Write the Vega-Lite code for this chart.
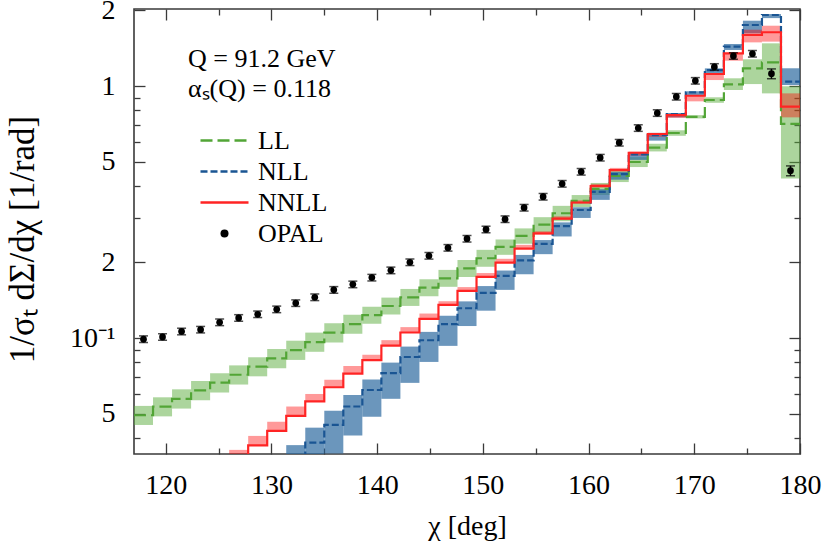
{
  "$schema": "https://vega.github.io/schema/vega-lite/v6.json",
  "width": 666,
  "height": 445,
  "autosize": {"type": "none"},
  "padding": {"left": 134, "top": 9, "right": 22, "bottom": 87},
  "background": "white",
  "config": {
    "font": "Liberation Serif",
    "view": {"stroke": "#3a3a3a", "strokeWidth": 1.6},
    "axis": {"grid": false, "domain": false, "labelFont": "Liberation Serif", "titleFont": "Liberation Serif", "labelColor": "#000", "titleColor": "#000", "tickColor": "#3a3a3a", "tickWidth": 1.3, "titleFontWeight": "normal", "labelFontSize": 28, "labelFlush": false, "labelOverlap": false}
  },
  "title": {"text": ["Q = 91.2 GeV", "αₛ(Q) = 0.118"], "anchor": "start", "frame": "group", "orient": "top", "baseline": "top", "offset": 0, "dx": 54, "dy": 106, "fontSize": 26, "fontWeight": "normal", "font": "Liberation Serif", "lineHeight": 30, "color": "#000"},
  "datasets": {
    "hist": [
      {"series": "LL", "x0": 117, "x1": 118.8, "v": 0.0494, "lo": 0.0452, "hi": 0.0538},
      {"series": "LL", "x0": 118.8, "x1": 120.6, "v": 0.0534, "lo": 0.0489, "hi": 0.0582},
      {"series": "LL", "x0": 120.6, "x1": 122.4, "v": 0.0574, "lo": 0.0525, "hi": 0.0626},
      {"series": "LL", "x0": 122.4, "x1": 124.2, "v": 0.0620, "lo": 0.0567, "hi": 0.0676},
      {"series": "LL", "x0": 124.2, "x1": 126, "v": 0.0665, "lo": 0.0608, "hi": 0.0725},
      {"series": "LL", "x0": 126, "x1": 127.8, "v": 0.0715, "lo": 0.0654, "hi": 0.0779},
      {"series": "LL", "x0": 127.8, "x1": 129.6, "v": 0.0770, "lo": 0.0705, "hi": 0.0839},
      {"series": "LL", "x0": 129.6, "x1": 131.4, "v": 0.0830, "lo": 0.0759, "hi": 0.0905},
      {"series": "LL", "x0": 131.4, "x1": 133.2, "v": 0.0895, "lo": 0.0819, "hi": 0.0976},
      {"series": "LL", "x0": 133.2, "x1": 135, "v": 0.0964, "lo": 0.0882, "hi": 0.1051},
      {"series": "LL", "x0": 135, "x1": 136.8, "v": 0.1050, "lo": 0.0961, "hi": 0.1145},
      {"series": "LL", "x0": 136.8, "x1": 138.6, "v": 0.1135, "lo": 0.1039, "hi": 0.1237},
      {"series": "LL", "x0": 138.6, "x1": 140.4, "v": 0.1232, "lo": 0.1140, "hi": 0.1331},
      {"series": "LL", "x0": 140.4, "x1": 142.2, "v": 0.1340, "lo": 0.1240, "hi": 0.1447},
      {"series": "LL", "x0": 142.2, "x1": 144, "v": 0.1450, "lo": 0.1341, "hi": 0.1566},
      {"series": "LL", "x0": 144, "x1": 145.8, "v": 0.1584, "lo": 0.1465, "hi": 0.1711},
      {"series": "LL", "x0": 145.8, "x1": 147.6, "v": 0.1726, "lo": 0.1597, "hi": 0.1864},
      {"series": "LL", "x0": 147.6, "x1": 149.4, "v": 0.1889, "lo": 0.1747, "hi": 0.2040},
      {"series": "LL", "x0": 149.4, "x1": 151.2, "v": 0.2073, "lo": 0.1918, "hi": 0.2239},
      {"series": "LL", "x0": 151.2, "x1": 153, "v": 0.2300, "lo": 0.2139, "hi": 0.2461},
      {"series": "LL", "x0": 153, "x1": 154.8, "v": 0.2545, "lo": 0.2367, "hi": 0.2723},
      {"series": "LL", "x0": 154.8, "x1": 156.6, "v": 0.2820, "lo": 0.2623, "hi": 0.3017},
      {"series": "LL", "x0": 156.6, "x1": 158.4, "v": 0.3127, "lo": 0.2908, "hi": 0.3346},
      {"series": "LL", "x0": 158.4, "x1": 160.2, "v": 0.3500, "lo": 0.3308, "hi": 0.3693},
      {"series": "LL", "x0": 160.2, "x1": 162, "v": 0.3910, "lo": 0.3695, "hi": 0.4125},
      {"series": "LL", "x0": 162, "x1": 163.8, "v": 0.4400, "lo": 0.4158, "hi": 0.4642},
      {"series": "LL", "x0": 163.8, "x1": 165.6, "v": 0.4995, "lo": 0.4770, "hi": 0.5220},
      {"series": "LL", "x0": 165.6, "x1": 167.4, "v": 0.5700, "lo": 0.5501, "hi": 0.5900},
      {"series": "LL", "x0": 167.4, "x1": 169.2, "v": 0.6510, "lo": 0.6347, "hi": 0.6673},
      {"series": "LL", "x0": 169.2, "x1": 171, "v": 0.7550, "lo": 0.7437, "hi": 0.7663},
      {"series": "LL", "x0": 171, "x1": 172.8, "v": 0.8800, "lo": 0.8580, "hi": 0.9020},
      {"series": "LL", "x0": 172.8, "x1": 174.6, "v": 1.016, "lo": 0.964, "hi": 1.073},
      {"series": "LL", "x0": 174.6, "x1": 176.4, "v": 1.175, "lo": 1.018, "hi": 1.276},
      {"series": "LL", "x0": 176.4, "x1": 178.2, "v": 1.242, "lo": 0.935, "hi": 1.477},
      {"series": "LL", "x0": 178.2, "x1": 180, "v": 0.707, "lo": 0.430, "hi": 0.997},
      {"series": "NLL", "x0": 131.4, "x1": 133.2, "v": 0.0330, "lo": 0.0254, "hi": 0.0376},
      {"series": "NLL", "x0": 133.2, "x1": 135, "v": 0.0385, "lo": 0.0296, "hi": 0.0441},
      {"series": "NLL", "x0": 135, "x1": 136.8, "v": 0.0452, "lo": 0.0348, "hi": 0.0515},
      {"series": "NLL", "x0": 136.8, "x1": 138.6, "v": 0.0535, "lo": 0.0411, "hi": 0.0595},
      {"series": "NLL", "x0": 138.6, "x1": 140.4, "v": 0.0622, "lo": 0.0487, "hi": 0.0685},
      {"series": "NLL", "x0": 140.4, "x1": 142.2, "v": 0.0726, "lo": 0.0574, "hi": 0.0799},
      {"series": "NLL", "x0": 142.2, "x1": 144, "v": 0.0841, "lo": 0.0664, "hi": 0.0925},
      {"series": "NLL", "x0": 144, "x1": 145.8, "v": 0.0980, "lo": 0.0804, "hi": 0.1058},
      {"series": "NLL", "x0": 145.8, "x1": 147.6, "v": 0.1135, "lo": 0.0931, "hi": 0.1226},
      {"series": "NLL", "x0": 147.6, "x1": 149.4, "v": 0.1313, "lo": 0.1116, "hi": 0.1398},
      {"series": "NLL", "x0": 149.4, "x1": 151.2, "v": 0.1510, "lo": 0.1284, "hi": 0.1608},
      {"series": "NLL", "x0": 151.2, "x1": 153, "v": 0.1765, "lo": 0.1553, "hi": 0.1853},
      {"series": "NLL", "x0": 153, "x1": 154.8, "v": 0.2035, "lo": 0.1791, "hi": 0.2137},
      {"series": "NLL", "x0": 154.8, "x1": 156.6, "v": 0.2365, "lo": 0.2152, "hi": 0.2448},
      {"series": "NLL", "x0": 156.6, "x1": 158.4, "v": 0.2780, "lo": 0.2530, "hi": 0.2877},
      {"series": "NLL", "x0": 158.4, "x1": 160.2, "v": 0.3222, "lo": 0.2996, "hi": 0.3303},
      {"series": "NLL", "x0": 160.2, "x1": 162, "v": 0.3800, "lo": 0.3534, "hi": 0.3895},
      {"series": "NLL", "x0": 162, "x1": 163.8, "v": 0.4474, "lo": 0.4250, "hi": 0.4563},
      {"series": "NLL", "x0": 163.8, "x1": 165.6, "v": 0.5360, "lo": 0.5092, "hi": 0.5467},
      {"series": "NLL", "x0": 165.6, "x1": 167.4, "v": 0.6390, "lo": 0.6071, "hi": 0.6518},
      {"series": "NLL", "x0": 167.4, "x1": 169.2, "v": 0.7740, "lo": 0.7508, "hi": 0.7817},
      {"series": "NLL", "x0": 169.2, "x1": 171, "v": 0.9440, "lo": 0.9157, "hi": 0.9534},
      {"series": "NLL", "x0": 171, "x1": 172.8, "v": 1.157, "lo": 1.106, "hi": 1.175},
      {"series": "NLL", "x0": 172.8, "x1": 174.6, "v": 1.432, "lo": 1.390, "hi": 1.468},
      {"series": "NLL", "x0": 174.6, "x1": 176.4, "v": 1.746, "lo": 1.618, "hi": 1.816},
      {"series": "NLL", "x0": 176.4, "x1": 178.2, "v": 1.913, "lo": 1.860, "hi": 1.930},
      {"series": "NLL", "x0": 178.2, "x1": 180, "v": 1.040, "lo": 1.009, "hi": 1.176},
      {"series": "NNLL", "x0": 126, "x1": 127.8, "v": 0.0330, "lo": 0.0330, "hi": 0.0360},
      {"series": "NNLL", "x0": 127.8, "x1": 129.6, "v": 0.0375, "lo": 0.0375, "hi": 0.0409},
      {"series": "NNLL", "x0": 129.6, "x1": 131.4, "v": 0.0428, "lo": 0.0428, "hi": 0.0466},
      {"series": "NNLL", "x0": 131.4, "x1": 133.2, "v": 0.0491, "lo": 0.0491, "hi": 0.0535},
      {"series": "NNLL", "x0": 133.2, "x1": 135, "v": 0.0561, "lo": 0.0561, "hi": 0.0600},
      {"series": "NNLL", "x0": 135, "x1": 136.8, "v": 0.0638, "lo": 0.0638, "hi": 0.0683},
      {"series": "NNLL", "x0": 136.8, "x1": 138.6, "v": 0.0723, "lo": 0.0723, "hi": 0.0774},
      {"series": "NNLL", "x0": 138.6, "x1": 140.4, "v": 0.0818, "lo": 0.0818, "hi": 0.0859},
      {"series": "NNLL", "x0": 140.4, "x1": 142.2, "v": 0.0934, "lo": 0.0934, "hi": 0.0981},
      {"series": "NNLL", "x0": 142.2, "x1": 144, "v": 0.1052, "lo": 0.1052, "hi": 0.1105},
      {"series": "NNLL", "x0": 144, "x1": 145.8, "v": 0.1191, "lo": 0.1191, "hi": 0.1251},
      {"series": "NNLL", "x0": 145.8, "x1": 147.6, "v": 0.1353, "lo": 0.1353, "hi": 0.1400},
      {"series": "NNLL", "x0": 147.6, "x1": 149.4, "v": 0.1539, "lo": 0.1539, "hi": 0.1593},
      {"series": "NNLL", "x0": 149.4, "x1": 151.2, "v": 0.1750, "lo": 0.1750, "hi": 0.1811},
      {"series": "NNLL", "x0": 151.2, "x1": 153, "v": 0.1993, "lo": 0.1993, "hi": 0.2063},
      {"series": "NNLL", "x0": 153, "x1": 154.8, "v": 0.2264, "lo": 0.2264, "hi": 0.2343},
      {"series": "NNLL", "x0": 154.8, "x1": 156.6, "v": 0.2600, "lo": 0.2574, "hi": 0.2652},
      {"series": "NNLL", "x0": 156.6, "x1": 158.4, "v": 0.2980, "lo": 0.2950, "hi": 0.3040},
      {"series": "NNLL", "x0": 158.4, "x1": 160.2, "v": 0.3450, "lo": 0.3416, "hi": 0.3519},
      {"series": "NNLL", "x0": 160.2, "x1": 162, "v": 0.4010, "lo": 0.3970, "hi": 0.4090},
      {"series": "NNLL", "x0": 162, "x1": 163.8, "v": 0.4640, "lo": 0.4594, "hi": 0.4733},
      {"series": "NNLL", "x0": 163.8, "x1": 165.6, "v": 0.5434, "lo": 0.5298, "hi": 0.5488},
      {"series": "NNLL", "x0": 165.6, "x1": 167.4, "v": 0.6450, "lo": 0.6289, "hi": 0.6515},
      {"series": "NNLL", "x0": 167.4, "x1": 169.2, "v": 0.7670, "lo": 0.7478, "hi": 0.7747},
      {"series": "NNLL", "x0": 169.2, "x1": 171, "v": 0.9150, "lo": 0.8693, "hi": 0.9150},
      {"series": "NNLL", "x0": 171, "x1": 172.8, "v": 1.116, "lo": 1.056, "hi": 1.116},
      {"series": "NNLL", "x0": 172.8, "x1": 174.6, "v": 1.348, "lo": 1.260, "hi": 1.348},
      {"series": "NNLL", "x0": 174.6, "x1": 176.4, "v": 1.594, "lo": 1.490, "hi": 1.673},
      {"series": "NNLL", "x0": 176.4, "x1": 178.2, "v": 1.634, "lo": 1.500, "hi": 1.735},
      {"series": "NNLL", "x0": 178.2, "x1": 180, "v": 0.828, "lo": 0.751, "hi": 0.935}
    ],
    "opal": [
      {"x": 117.9, "v": 0.0990, "lo": 0.0960, "hi": 0.1020},
      {"x": 119.7, "v": 0.1010, "lo": 0.0980, "hi": 0.1040},
      {"x": 121.5, "v": 0.1062, "lo": 0.1030, "hi": 0.1094},
      {"x": 123.3, "v": 0.1080, "lo": 0.1048, "hi": 0.1112},
      {"x": 125.1, "v": 0.1155, "lo": 0.1120, "hi": 0.1190},
      {"x": 126.9, "v": 0.1202, "lo": 0.1166, "hi": 0.1238},
      {"x": 128.7, "v": 0.1243, "lo": 0.1206, "hi": 0.1280},
      {"x": 130.5, "v": 0.1300, "lo": 0.1261, "hi": 0.1339},
      {"x": 132.3, "v": 0.1376, "lo": 0.1335, "hi": 0.1417},
      {"x": 134.1, "v": 0.1452, "lo": 0.1408, "hi": 0.1496},
      {"x": 135.9, "v": 0.1553, "lo": 0.1506, "hi": 0.1600},
      {"x": 137.7, "v": 0.1633, "lo": 0.1584, "hi": 0.1682},
      {"x": 139.5, "v": 0.1737, "lo": 0.1685, "hi": 0.1789},
      {"x": 141.3, "v": 0.1856, "lo": 0.1800, "hi": 0.1912},
      {"x": 143.1, "v": 0.1999, "lo": 0.1939, "hi": 0.2059},
      {"x": 144.9, "v": 0.2121, "lo": 0.2057, "hi": 0.2185},
      {"x": 146.7, "v": 0.2281, "lo": 0.2213, "hi": 0.2349},
      {"x": 148.5, "v": 0.2478, "lo": 0.2404, "hi": 0.2552},
      {"x": 150.3, "v": 0.2697, "lo": 0.2616, "hi": 0.2778},
      {"x": 152.1, "v": 0.2963, "lo": 0.2874, "hi": 0.3052},
      {"x": 153.9, "v": 0.3290, "lo": 0.3191, "hi": 0.3389},
      {"x": 155.7, "v": 0.3637, "lo": 0.3528, "hi": 0.3746},
      {"x": 157.5, "v": 0.4094, "lo": 0.3971, "hi": 0.4217},
      {"x": 159.3, "v": 0.4569, "lo": 0.4432, "hi": 0.4706},
      {"x": 161.1, "v": 0.5197, "lo": 0.5041, "hi": 0.5353},
      {"x": 162.9, "v": 0.5958, "lo": 0.5779, "hi": 0.6137},
      {"x": 164.7, "v": 0.6813, "lo": 0.6609, "hi": 0.7017},
      {"x": 166.5, "v": 0.7814, "lo": 0.7580, "hi": 0.8048},
      {"x": 168.3, "v": 0.9069, "lo": 0.8797, "hi": 0.9341},
      {"x": 170.1, "v": 1.049, "lo": 1.018, "hi": 1.080},
      {"x": 171.9, "v": 1.190, "lo": 1.154, "hi": 1.226},
      {"x": 173.7, "v": 1.316, "lo": 1.277, "hi": 1.355},
      {"x": 175.5, "v": 1.343, "lo": 1.303, "hi": 1.383},
      {"x": 177.3, "v": 1.119, "lo": 1.069, "hi": 1.169},
      {"x": 179.1, "v": 0.4612, "lo": 0.4405, "hi": 0.4819}
    ]
  },
  "layer": [
    {
      "layer": [
        {
          "data": {"name": "hist"},
          "transform": [{"filter": "datum.series === 'LL'"}],
          "mark": {"type": "rect", "clip": true, "strokeWidth": 0, "fill": "#5aac3c", "fillOpacity": 0.5},
          "encoding": {
            "x": {"field": "x0", "type": "quantitative", "title": "χ [deg]", "scale": {"domain": [117, 180], "nice": false, "zero": false},
              "axis": {"orient": "bottom", "values": [120, 125, 130, 135, 140, 145, 150, 155, 160, 165, 170, 175, 180], "format": "d",
                "labelExpr": "datum.value % 10 === 0 ? datum.label : ''",
                "tickSize": {"condition": {"test": "datum.value % 10 === 0", "value": -11}, "value": -6},
                "labelFont": "Liberation Serif", "titleFont": "Liberation Serif",
                "labelPadding": 28, "titleFontSize": 28, "titleY": 80, "titleBaseline": "alphabetic"}},
            "x2": {"field": "x1"},
            "y": {"field": "lo", "type": "quantitative", "title": "1/σₜ dΣ/dχ [1/rad]", "scale": {"type": "log", "domain": [0.03467, 2.021], "nice": false},
              "axis": {"orient": "left", "values": [0.04, 0.05, 0.06, 0.07, 0.08, 0.09, 0.1, 0.2, 0.3, 0.4, 0.5, 0.6, 0.7, 0.8, 0.9, 1, 2],
                "labelExpr": "datum.value === 2 ? '2' : datum.value === 1 ? '1' : datum.value === 0.5 ? '5' : datum.value === 0.2 ? '2' : datum.value === 0.1 ? '10⁻¹' : datum.value === 0.05 ? '5' : ''",
                "tickSize": {"condition": {"test": "indexof([0.05, 0.1, 0.2, 0.5, 1, 2], datum.value) >= 0", "value": -11}, "value": -6},
                "labelFont": "Liberation Serif", "titleFont": "Liberation Serif",
                "labelPadding": 30, "titleFontSize": 35, "titleX": -101, "titleY": 230, "titleBaseline": "alphabetic"}},
            "y2": {"field": "hi"}
          }
        },
        {
          "data": {"name": "hist"},
          "transform": [{"filter": "datum.series === 'NLL'"}],
          "mark": {"type": "rect", "clip": true, "strokeWidth": 0, "fill": "#2c6aa0", "fillOpacity": 0.7},
          "encoding": {
            "x": {"field": "x0", "type": "quantitative", "title": "χ [deg]", "scale": {"domain": [117, 180], "nice": false, "zero": false}},
            "x2": {"field": "x1"},
            "y": {"field": "lo", "type": "quantitative", "title": "1/σₜ dΣ/dχ [1/rad]", "scale": {"type": "log", "domain": [0.03467, 2.021], "nice": false}},
            "y2": {"field": "hi"}
          }
        },
        {
          "data": {"name": "hist"},
          "transform": [{"filter": "datum.series === 'NNLL'"}],
          "mark": {"type": "rect", "clip": true, "strokeWidth": 0, "fill": "#ff0000", "fillOpacity": 0.4},
          "encoding": {
            "x": {"field": "x0", "type": "quantitative", "title": "χ [deg]", "scale": {"domain": [117, 180], "nice": false, "zero": false}},
            "x2": {"field": "x1"},
            "y": {"field": "lo", "type": "quantitative", "title": "1/σₜ dΣ/dχ [1/rad]", "scale": {"type": "log", "domain": [0.03467, 2.021], "nice": false}},
            "y2": {"field": "hi"}
          }
        },
        {
          "data": {"name": "hist"},
          "transform": [{"fold": ["x0", "x1"], "as": ["edgeKey", "edge"]}],
          "mark": {"type": "line", "clip": true},
          "encoding": {
            "x": {"field": "edge", "type": "quantitative", "title": "χ [deg]", "scale": {"domain": [117, 180], "nice": false, "zero": false}},
            "y": {"field": "v", "type": "quantitative", "title": "1/σₜ dΣ/dχ [1/rad]", "scale": {"type": "log", "domain": [0.03467, 2.021], "nice": false}},
            "color": {"field": "series", "type": "nominal", "scale": {"domain": ["LL", "NLL", "NNLL", "OPAL"], "range": ["#52a536", "#1a5593", "#ff2424", "#000000"]},
              "legend": {"title": null, "orient": "none", "legendX": 77.5, "legendY": 118.5, "padding": 0,
                "labelFontSize": 26, "labelFont": "Liberation Serif", "labelColor": "#000",
                "symbolType": "M-2,0H2", "symbolSize": 576, "symbolStrokeWidth": 2.3, "labelOffset": 20.5, "rowPadding": 5,
                "encode": {"symbols": {"update": {
                  "shape": {"signal": "datum.value === 'OPAL' ? 'circle' : 'M-2,0H2'"},
                  "size": {"signal": "datum.value === 'OPAL' ? 64 : 576"},
                  "fill": {"signal": "datum.value === 'OPAL' ? '#000' : 'transparent'"},
                  "strokeWidth": {"signal": "datum.value === 'OPAL' ? 0 : 2.3"}}}}}},
            "strokeDash": {"field": "series", "type": "nominal", "scale": {"domain": ["LL", "NLL", "NNLL", "OPAL"], "range": [[12, 5], [7, 3], [1, 0], [1, 0]]},
              "legend": {"title": null, "orient": "none", "legendX": 77.5, "legendY": 118.5}},
            "strokeWidth": {"field": "series", "type": "nominal", "scale": {"domain": ["LL", "NLL", "NNLL"], "range": [2.2, 2.2, 2.8]}, "legend": null},
            "order": [{"field": "x0", "type": "quantitative"}, {"field": "edgeKey", "type": "nominal"}]
          }
        },
        {
          "data": {"name": "opal"},
          "mark": {"type": "errorbar", "ticks": {"size": 9, "thickness": 1.5, "color": "#000"}, "rule": {"strokeWidth": 1.5, "color": "#000"}},
          "encoding": {
            "x": {"field": "x", "type": "quantitative", "title": "χ [deg]", "scale": {"domain": [117, 180], "nice": false, "zero": false}},
            "y": {"field": "lo", "type": "quantitative", "title": "1/σₜ dΣ/dχ [1/rad]", "scale": {"type": "log", "domain": [0.03467, 2.021], "nice": false}},
            "y2": {"field": "hi"}
          }
        },
        {
          "data": {"name": "opal"},
          "mark": {"type": "point", "filled": true, "size": 45, "color": "#000", "opacity": 1},
          "encoding": {
            "x": {"field": "x", "type": "quantitative", "title": "χ [deg]", "scale": {"domain": [117, 180], "nice": false, "zero": false}},
            "y": {"field": "v", "type": "quantitative", "title": "1/σₜ dΣ/dχ [1/rad]", "scale": {"type": "log", "domain": [0.03467, 2.021], "nice": false}}
          }
        }
      ]
    },
    {
      "data": {"name": "opal"},
      "mark": {"type": "point", "opacity": 0},
      "encoding": {
        "x": {"field": "x", "type": "quantitative", "scale": {"domain": [117, 180], "nice": false, "zero": false},
          "axis": {"orient": "top", "values": [120, 125, 130, 135, 140, 145, 150, 155, 160, 165, 170, 175, 180], "labels": false, "title": null,
            "tickSize": {"condition": {"test": "datum.value % 10 === 0", "value": -11}, "value": -6}}},
        "y": {"field": "v", "type": "quantitative", "scale": {"type": "log", "domain": [0.03467, 2.021], "nice": false},
          "axis": {"orient": "right", "values": [0.04, 0.05, 0.06, 0.07, 0.08, 0.09, 0.1, 0.2, 0.3, 0.4, 0.5, 0.6, 0.7, 0.8, 0.9, 1, 2], "labels": false, "title": null,
            "tickSize": {"condition": {"test": "indexof([0.05, 0.1, 0.2, 0.5, 1, 2], datum.value) >= 0", "value": -11}, "value": -6}}}
      }
    }
  ],
  "resolve": {"axis": {"x": "independent", "y": "independent"}}
}
